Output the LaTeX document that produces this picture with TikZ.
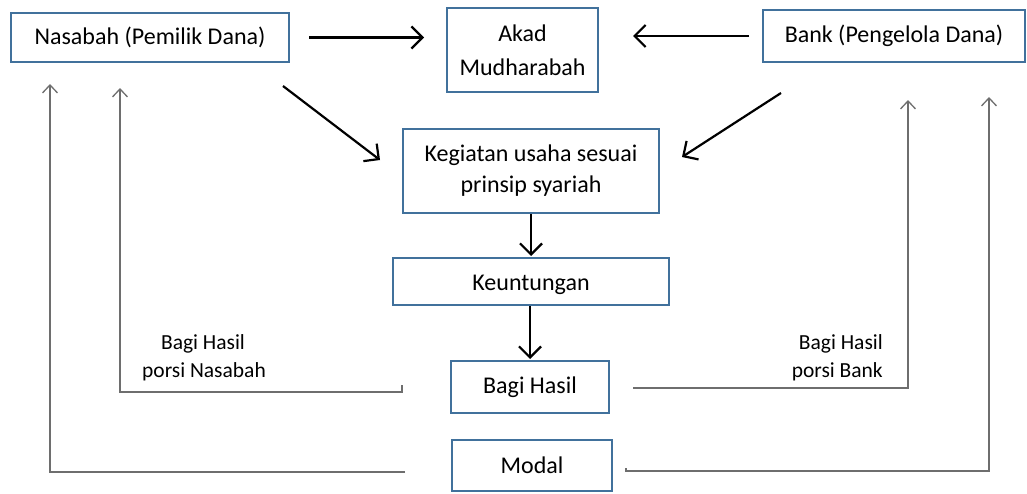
\documentclass[tikz,border=0pt]{standalone}
\usepackage{fontspec}
\setmainfont{Carlito}
\usetikzlibrary{arrows.meta}
\definecolor{boxblue}{HTML}{41719C}
\definecolor{loopgray}{HTML}{6E6E6E}
\tikzset{
  box/.style={draw=boxblue, line width=2pt, fill=white, align=center, inner sep=0pt,
    font=\fontsize{24}{34}\selectfont},
  mainarrow/.style={draw=black, line width=2.2pt, -{Straight Barb[length=11pt,width=22pt,line width=2.2pt]}},
  looparrow/.style={draw=loopgray, line width=1.6pt, -{Straight Barb[length=8pt,width=15pt,line width=1.3pt]}},
  lbl/.style={font=\fontsize{21.5}{28}\selectfont, inner sep=0pt}
}
\begin{document}
\begin{tikzpicture}[x=1pt,y=-1pt]
\useasboundingbox (0,0) rectangle (1027,493);
% boxes
\node[box, minimum width=278pt, minimum height=49pt, text height=19pt, text depth=5pt] (nas) at (150,37.5) {Nasabah (Pemilik Dana)};
\node[box, minimum width=151pt, minimum height=84pt] (akad) at (522.5,50) {Akad\\Mudharabah};
\node[box, minimum width=262pt, minimum height=52pt] (bank) at (894,36) {Bank (Pengelola Dana)};
\node[box, minimum width=256pt, minimum height=84pt, font=\fontsize{24}{31}\selectfont] (keg) at (531,171) {\raisebox{-3pt}{Kegiatan usaha sesuai}\\\raisebox{-3pt}{prinsip syariah}};
\node[box, minimum width=276pt, minimum height=47pt, text height=23pt, text depth=5pt] (keu) at (531,281.5) {Keuntungan};
\node[box, minimum width=158pt, minimum height=52pt] (bh) at (530,387) {Bagi Hasil};
\node[box, minimum width=160pt, minimum height=51pt] (mod) at (532,465.5) {Modal};
% main arrows
\draw[mainarrow, shorten <=19pt, shorten >=22pt] (nas.east) -- (nas.east -| akad.west);
\draw[mainarrow, shorten <=13pt, shorten >=34pt] (bank.west) -- (bank.west -| akad.east);
\coordinate (d1s) at (283,86);
\coordinate (d1e) at (380,160);
\coordinate (d2s) at (781,93);
\coordinate (d2e) at (682,157);
\draw[mainarrow] (d1s) -- (d1e);
\draw[mainarrow] (d2s) -- (d2e);
\draw[mainarrow, shorten >=1pt] (keg.south) -- (keu.north);
\draw[mainarrow, shorten >=1pt] (keu.south -| bh.north) -- (bh.north);
% feedback loops
\coordinate (li0) at (402,385);
\coordinate (li1) at (402,392);
\coordinate (li2) at (120,392);
\coordinate (li3) at (120,88);
\draw[looparrow] (li0) -- (li1) -- (li2) -- (li3);
\coordinate (lo1) at (405,472);
\coordinate (lo2) at (50,472);
\coordinate (lo3) at (50,84);
\draw[looparrow] (lo1) -- (lo2) -- (lo3);
\coordinate (ri1) at (633,388);
\coordinate (ri2) at (908,388);
\coordinate (ri3) at (908,100);
\draw[looparrow] (ri1) -- (ri2) -- (ri3);
\coordinate (ro0) at (626,468);
\coordinate (ro1) at (626,471);
\coordinate (ro2) at (989,471);
\coordinate (ro3) at (989,97);
\draw[looparrow] (ro0) -- (ro1) -- (ro2) -- (ro3);
% labels
\node[lbl] (lbl1) at (203,344) {Bagi Hasil};
\node[lbl] (lbl2) at (204,372) {porsi Nasabah};
\node[lbl, anchor=east] (lbl3) at (883,344) {Bagi Hasil};
\node[lbl, anchor=east] (lbl4) at (883,372) {porsi Bank};
\end{tikzpicture}
\end{document}
